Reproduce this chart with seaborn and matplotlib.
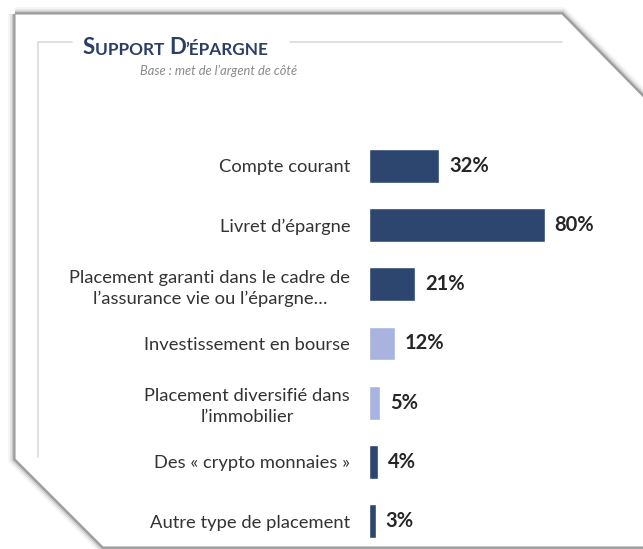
import matplotlib
matplotlib.use("Agg")
import matplotlib.pyplot as plt
from matplotlib.patches import Polygon
from matplotlib.lines import Line2D
import seaborn as sns
import pandas as pd

categories = [
    "Compte courant",
    "Livret d\u2019épargne",
    "Placement garanti dans le cadre de\nl\u2019assurance vie ou l\u2019épargne\u2026",
    "Investissement en bourse",
    "Placement diversifié dans\nl\u2019immobilier",
    "Des « crypto monnaies »",
    "Autre type de placement",
]
values = [32, 80, 21, 12, 5, 4, 3]
bar_colors = ["#2d4670", "#2d4670", "#2d4670", "#a9b3e0", "#a9b3e0", "#2d4670", "#2d4670"]

W, H = 643, 549
sns.set_style("white")
plt.rcParams["font.family"] = ["Lato", "DejaVu Sans"]

fig = plt.figure(figsize=(W / 100, H / 100), dpi=100)
fig.patch.set_facecolor("white")


def fx(x):
    return x / W


def fy(y):
    return 1 - y / H


# panel with cut corners and soft shadow
panel_px = [(15, 14), (562, 14), (720, 175), (720, 547), (103, 547), (15, 459)]
pts = [(fx(x), fy(y)) for x, y in panel_px]
for lw, a in [(10, 0.04), (7, 0.07), (4.5, 0.12), (2.5, 0.22)]:
    fig.add_artist(Polygon(pts, closed=True, facecolor="none", edgecolor="black",
                           linewidth=lw, alpha=a, transform=fig.transFigure, zorder=0))
fig.add_artist(Polygon(pts, closed=True, facecolor="white", edgecolor="#a0a0a0",
                       linewidth=0.8, transform=fig.transFigure, zorder=0.5))

# inner frame lines
frame_c = "#dadada"
fig.add_artist(Line2D([fx(38), fx(38), fx(72)], [fy(457), fy(42), fy(42)],
                      color=frame_c, lw=1.2, transform=fig.transFigure))
fig.add_artist(Line2D([fx(290), fx(562)], [fy(42), fy(42)],
                      color=frame_c, lw=1.2, transform=fig.transFigure))

# title in small caps, pieces chained one after the other
ax_t = fig.add_axes([0, 0, 1, 1], zorder=1)
ax_t.set_axis_off()
title_c = "#2b3f66"
parts = [("S", 16), ("UPPORT ", 12.4), ("D", 16), ("\u2019ÉPARGNE", 12.4)]
prev = ax_t.text(fx(83), fy(54), parts[0][0], fontsize=parts[0][1], fontweight="bold",
                 color=title_c, va="baseline", ha="left", transform=ax_t.transAxes)
for s, size in parts[1:]:
    prev = ax_t.annotate(s, xy=(1, 0), xycoords=prev, xytext=(0, 0), textcoords="offset points",
                         fontsize=size, fontweight="bold", color=title_c,
                         va="bottom", ha="left")
ax_t.text(fx(140), fy(71), "Base : met de l\u2019argent de côté", fontsize=9.3,
          style="italic", color="#8a8a8a", va="center", ha="left", transform=ax_t.transAxes)

# bar chart
ax = fig.add_axes([fx(369), fy(549), fx(620) - fx(369), (549 - 136.4) / H], zorder=2)
ax.patch.set_alpha(0)
df = pd.DataFrame({"cat": categories, "val": values})
sns.barplot(data=df, x="val", y="cat", hue="cat", palette=bar_colors, order=categories,
            legend=False, width=0.57, ax=ax, saturation=1)
ax.set_xlim(0, 251 / 2.2)
ax.set_ylim(6.473, -0.5)
for cont in ax.containers:
    ax.bar_label(cont, labels=[f"{int(v)}%" for v in cont.datavalues], padding=7,
                 fontsize=14.5, fontweight="bold", color="#262626")
ax.set_xlabel("")
ax.set_ylabel("")
ax.set_xticks([])
ax.tick_params(axis="y", length=0, pad=13.5)
for lab in ax.get_yticklabels():
    lab.set_fontsize(13.2)
    lab.set_color("#333333")
    lab.set_multialignment("center")
    lab.set_linespacing(1.4)
sns.despine(ax=ax, left=True, bottom=True)

fig.savefig("out.png", dpi=100, facecolor="white")
